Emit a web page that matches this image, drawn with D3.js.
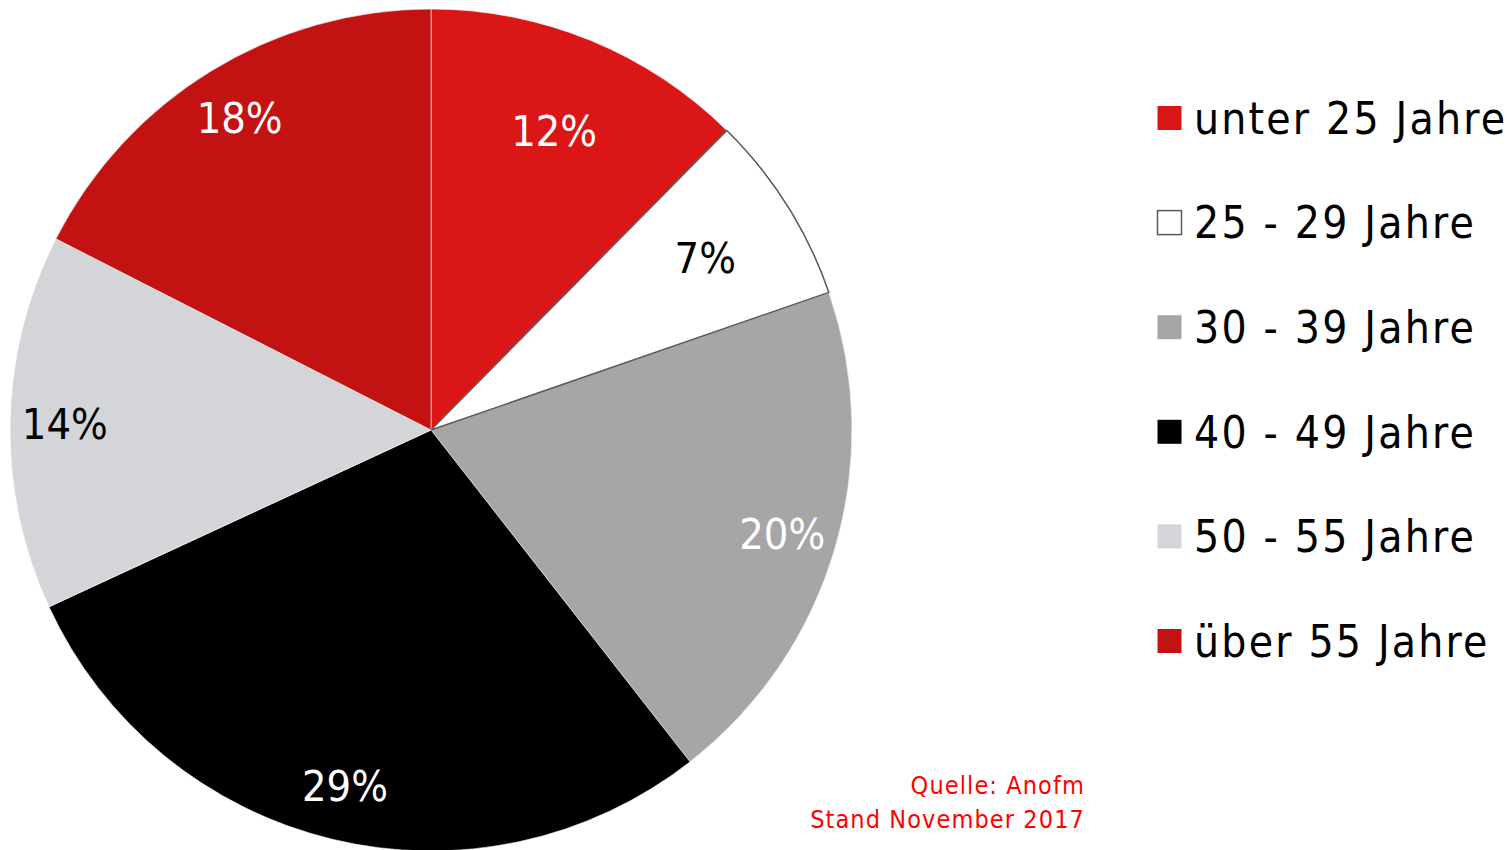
<!DOCTYPE html>
<html><head><meta charset="utf-8">
<script src="https://cdn.jsdelivr.net/npm/d3@7"></script>
<style>html,body{margin:0;padding:0;background:#fff;overflow:hidden}</style>
</head><body>
<svg id="chart" width="1511" height="850"></svg>
<script>
const categories = ["unter 25 Jahre","25 - 29 Jahre","30 - 39 Jahre","40 - 49 Jahre","50 - 55 Jahre","über 55 Jahre"];
// shares estimated from the slice geometry (labels show them rounded)
const values = [12.4, 7.3, 19.75, 28.65, 14.4, 17.5];
const colors = ["#db1616","#ffffff","#a6a6a6","#000000","#d4d5d9","#c31212"];
const labelColors = ["#ffffff","#000000","#ffffff","#ffffff","#000000","#ffffff"];
const sourceLines = ["Quelle: Anofm","Stand November 2017"];

const FONT = "'DejaVu Sans Condensed', 'DejaVu Sans', sans-serif";
const svg = d3.select("#chart");
const cx = 431, cy = 430, R = 421;

const pie = d3.pie().sort(null).value(d => d)(values);
const arc = d3.arc().innerRadius(0).outerRadius(R);
const g = svg.append("g").attr("transform", `translate(${cx},${cy})`);

g.selectAll("path.slice").data(pie).join("path")
  .attr("class","slice")
  .attr("d", arc)
  .attr("fill", (d,i) => colors[i])
  .attr("stroke", "#ffffff")
  .attr("stroke-width", 0.6);

// white slice drawn last so its outline is visible
g.append("path").datum(pie[1]).attr("d", arc).attr("fill","#fff").attr("stroke","#595959").attr("stroke-width",1.5);

const labelArcBig = d3.arc().innerRadius(R*0.87).outerRadius(R*0.87);
const labelArcSmall = d3.arc().innerRadius(R*0.77).outerRadius(R*0.77);
g.selectAll("text.lbl").data(pie).join("text")
  .attr("class","lbl")
  .attr("transform", d => `translate(${(d.data < 13 ? labelArcSmall : labelArcBig).centroid(d)})`)
  .attr("text-anchor","middle")
  .attr("dy","0.36em")
  .attr("font-family", FONT)
  .attr("font-stretch","condensed")
  .attr("font-size", 43)
  .attr("fill", (d,i) => labelColors[i])
  .text(d => Math.round(d.data) + "%");

// legend
const y = d3.scalePoint().domain(categories).range([118, 641]);
const lg = svg.append("g");
categories.forEach((c,i) => {
  lg.append("rect")
    .attr("x", 1157.5).attr("y", y(c) - 12)
    .attr("width", 24).attr("height", 24)
    .attr("fill", colors[i])
    .attr("stroke", colors[i] === "#ffffff" ? "#595959" : "none")
    .attr("stroke-width", 1.5);
  lg.append("text")
    .attr("x", 1194).attr("y", y(c))
    .attr("dy","0.36em")
    .attr("font-family", FONT)
    .attr("font-stretch","condensed")
    .attr("font-size", 44)
    .attr("letter-spacing", 2.2)
    .attr("fill","#000")
    .text(c);
});

// source
svg.append("g").selectAll("text").data(sourceLines).join("text")
  .attr("x", 1085).attr("y", (d,i) => 794 + i*34)
  .attr("text-anchor","end")
  .attr("font-family", FONT)
  .attr("font-stretch","condensed")
  .attr("font-size", 25)
  .attr("letter-spacing", 1.1)
  .attr("fill","#ff0000")
  .text(d => d);
</script>
</body></html>
